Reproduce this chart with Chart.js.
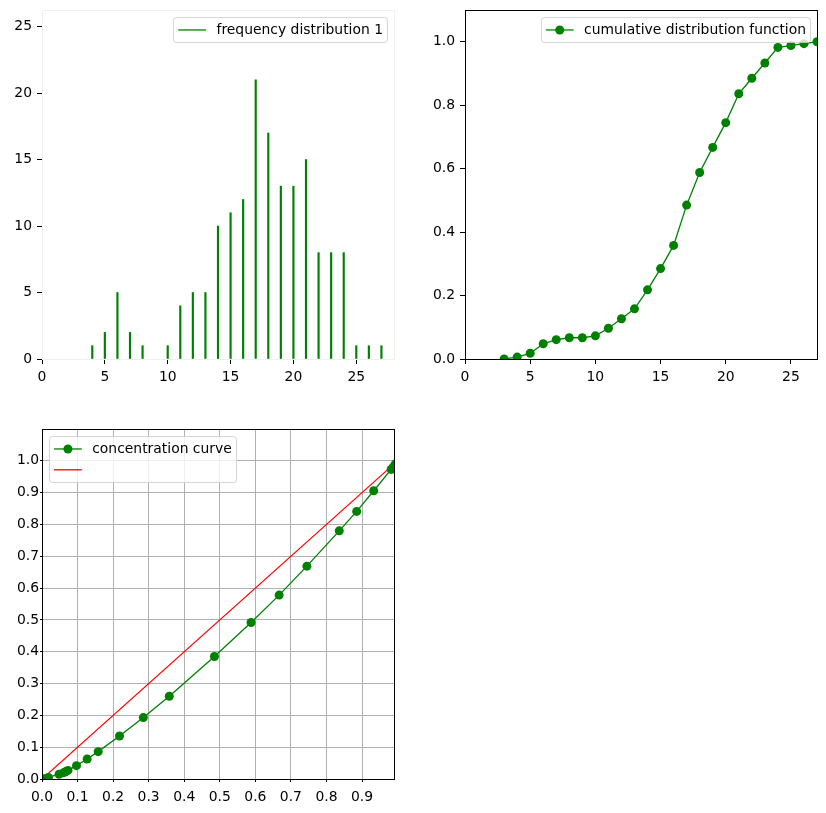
<!DOCTYPE html>
<html>
<head>
<meta charset="utf-8">
<script src="https://cdn.jsdelivr.net/npm/chart.js@4/dist/chart.umd.min.js"></script>
<style>
  html, body { margin: 0; padding: 0; background: #fff; }
  body { width: 826px; height: 813px; position: relative; overflow: hidden; }
  .box { position: absolute; }
  canvas { display: block; }
</style>
</head>
<body>
<div class="box" style="left:0px;top:0px;width:400px;height:390px"><canvas id="c1" width="400" height="390"></canvas></div>
<div class="box" style="left:420px;top:0px;width:406px;height:390px"><canvas id="c2" width="406" height="390"></canvas></div>
<div class="box" style="left:0px;top:420px;width:400px;height:393px"><canvas id="c3" width="400" height="393"></canvas></div>
<script>
// ---------------- DATA ----------------
const freqValues = [4, 5, 6, 7, 8, 10, 11, 12, 13, 14, 15, 16, 17, 18, 19, 20, 21, 22, 23, 24, 25, 26, 27];
const freqCounts = [1, 2, 5, 2, 1, 1, 4, 5, 5, 10, 11, 12, 21, 17, 13, 13, 15, 8, 8, 8, 1, 1, 1];

const cdfValues = [3, 4, 5, 6, 7, 8, 9, 10, 11, 12, 13, 14, 15, 16, 17, 18, 19, 20, 21, 22, 23, 24, 25, 26, 27];
const cdfProbs = [0, 0.006, 0.018, 0.048, 0.061, 0.067, 0.067, 0.073, 0.097, 0.127, 0.158, 0.218, 0.285, 0.358, 0.485, 0.588, 0.667, 0.745, 0.836, 0.885, 0.933, 0.982, 0.988, 0.994, 1.0];

const concX = [0, 0.006, 0.018, 0.048, 0.061, 0.067, 0.067, 0.073, 0.097, 0.127, 0.158, 0.218, 0.285, 0.358, 0.485, 0.588, 0.667, 0.745, 0.836, 0.885, 0.933, 0.982, 0.988, 0.994, 1.0];
const concY = [0, 0.001, 0.005, 0.015, 0.020, 0.023, 0.023, 0.027, 0.042, 0.063, 0.086, 0.135, 0.193, 0.260, 0.385, 0.492, 0.578, 0.669, 0.780, 0.841, 0.906, 0.973, 0.981, 0.991, 1.0];

const equalityX = [0, 1];
const equalityY = [0, 1];

const freqXTicks = [0, 5, 10, 15, 20, 25];
const freqYTicks = [0, 5, 10, 15, 20, 25];
const cdfXTicks = [0, 5, 10, 15, 20, 25];
const cdfYTicks = [0.0, 0.2, 0.4, 0.6, 0.8, 1.0];
const concXTicks = [0.0, 0.1, 0.2, 0.3, 0.4, 0.5, 0.6, 0.7, 0.8, 0.9];
const concYTicks = [0.0, 0.1, 0.2, 0.3, 0.4, 0.5, 0.6, 0.7, 0.8, 0.9, 1.0];

const legend1 = ['frequency distribution 1'];
const legend2 = ['cumulative distribution function'];
const legend3 = ['concentration curve', ''];

// ---------------- STYLE ----------------
const GREEN = '#008000';
const RED = '#ff0000';
const FS = 13.9;
const FONT = { family: '"DejaVu Sans", sans-serif', size: FS };
Chart.defaults.font.family = FONT.family;
Chart.defaults.font.size = FS;
Chart.defaults.color = '#000';

const pts = (xs, ys) => xs.map((x, i) => ({ x: x, y: ys[i] }));
const fixTicks = arr => function (scale) { scale.ticks = arr.map(v => ({ value: v })); };

// frame plugin
const framePlugin = {
  id: 'frame',
  afterDatasetsDraw(chart, args, opts) {
    const { ctx, chartArea: a } = chart;
    ctx.save();
    ctx.strokeStyle = opts.color || '#000';
    ctx.lineWidth = 1;
    ctx.strokeRect(Math.round(a.left) + 0.5, Math.round(a.top) + 0.5,
      Math.round(a.right - a.left), Math.round(a.bottom - a.top));
    ctx.restore();
  }
};

// matplotlib-like legend drawn inside axes
const mplLegend = {
  id: 'mplLegend',
  afterDraw(chart, args, opts) {
    const items = opts.items || [];
    if (!items.length) return;
    const { ctx, chartArea: a } = chart;
    ctx.save();
    ctx.font = FS + 'px "DejaVu Sans"';
    const tw = Math.max(...items.map(i => ctx.measureText(i.label).width), 0);
    const pad = 0.4 * FS, handle = 2 * FS, htp = 0.75 * FS, sp = 0.5 * FS, bap = 0.5 * FS;
    const w = pad * 2 + handle + htp + tw - 2;
    const n = items.length;
    const h = pad * 2 + n * FS + (n - 1) * sp;
    const x0 = opts.loc === 'ul' ? a.left + bap : a.right - bap - w;
    const y0 = a.top + bap;
    ctx.beginPath();
    if (ctx.roundRect) ctx.roundRect(Math.round(x0) + 0.5, Math.round(y0) + 0.5, Math.round(w), Math.round(h), 3);
    else ctx.rect(Math.round(x0) + 0.5, Math.round(y0) + 0.5, Math.round(w), Math.round(h));
    ctx.fillStyle = 'rgba(255,255,255,0.8)';
    ctx.fill();
    ctx.strokeStyle = 'rgba(204,204,204,0.8)';
    ctx.lineWidth = 1;
    ctx.stroke();
    items.forEach((it, i) => {
      const cy = y0 + pad + FS / 2 + i * (FS + sp) + 0.5;
      const lx0 = x0 + pad - 0.5, lx1 = x0 + pad + handle - 0.5;
      ctx.strokeStyle = it.color;
      ctx.lineWidth = 1.3;
      ctx.beginPath();
      ctx.moveTo(lx0, cy);
      ctx.lineTo(lx1, cy);
      ctx.stroke();
      if (it.marker) {
        ctx.fillStyle = it.color;
        ctx.beginPath();
        ctx.arc((lx0 + lx1) / 2, cy, 4.5, 0, Math.PI * 2);
        ctx.fill();
      }
      ctx.fillStyle = '#000';
      ctx.textBaseline = 'middle';
      ctx.textAlign = 'left';
      ctx.fillText(it.label, lx1 + htp, cy + 0.5);
    });
    ctx.restore();
  }
};

Chart.register(framePlugin, mplLegend);

function axis(opts) {
  return {
    type: 'linear',
    min: opts.min, max: opts.max,
    offset: false,
    afterBuildTicks: fixTicks(opts.ticks),
    afterFit: function (s) {
      opts.fit(s);
      s.paddingTop = 0; s.paddingBottom = 0; s.paddingLeft = 0; s.paddingRight = 0;
    },
    grid: {
      display: true,
      offset: false,
      drawOnChartArea: !!opts.grid,
      color: '#b0b0b0',
      lineWidth: 1,
      tickColor: '#000',
      drawTicks: true,
      tickLength: opts.tickLength != null ? opts.tickLength : 5,
    },
    border: { display: false },
    ticks: {
      color: '#000',
      font: FONT,
      padding: opts.padding != null ? opts.padding : 5,
      maxRotation: 0,
      autoSkip: false,
      callback: opts.fmt || (v => String(v)),
    }
  };
}

const common = {
  responsive: false,
  animation: false,
  devicePixelRatio: 1,
  events: [],
};

// ---------------- CHART 1 : frequency distribution ----------------
new Chart(document.getElementById('c1'), {
  type: 'bar',
  data: {
    datasets: [{
      label: legend1[0],
      data: pts(freqValues, freqCounts),
      backgroundColor: GREEN,
      borderWidth: 0,
      barThickness: 1.5,
    }]
  },
  options: Object.assign({}, common, {
    layout: { padding: { left: 0, top: 10, right: 6, bottom: 0 } },
    plugins: {
      legend: { display: false }, tooltip: { enabled: false },
      frame: { color: '#f0f0f0' },
      mplLegend: { loc: 'ur', items: [{ label: legend1[0], color: GREEN, marker: false }] }
    },
    scales: {
      x: axis({ min: 0, max: 28, ticks: freqXTicks, fit: s => { s.height = 31; }, padding: 5 }),
      y: axis({ min: 0, max: 26.25, ticks: freqYTicks, fit: s => { s.width = 42; }, padding: 5 }),
    }
  })
});

// ---------------- CHART 2 : CDF ----------------
new Chart(document.getElementById('c2'), {
  type: 'line',
  data: {
    datasets: [{
      label: legend2[0],
      data: pts(cdfValues, cdfProbs),
      borderColor: GREEN,
      backgroundColor: GREEN,
      borderWidth: 1.3,
      pointRadius: 4.5,
      pointBorderWidth: 0,
      pointBackgroundColor: GREEN,
      tension: 0,
      fill: false,
    }]
  },
  options: Object.assign({}, common, {
    layout: { padding: { left: 0, top: 10, right: 9, bottom: 0 } },
    plugins: {
      legend: { display: false }, tooltip: { enabled: false },
      frame: { color: '#000' },
      mplLegend: { loc: 'ur', items: [{ label: legend2[0], color: GREEN, marker: true }] }
    },
    scales: {
      x: axis({ min: 0, max: 27, ticks: cdfXTicks, fit: s => { s.height = 31; }, padding: 5 }),
      y: axis({ min: 0, max: 1.1, ticks: cdfYTicks, fit: s => { s.width = 45; }, padding: 5, fmt: v => v.toFixed(1) }),
    }
  })
});

// ---------------- CHART 3 : concentration curve ----------------
new Chart(document.getElementById('c3'), {
  type: 'line',
  data: {
    datasets: [{
      label: legend3[0],
      data: pts(concX, concY),
      borderColor: GREEN,
      backgroundColor: GREEN,
      borderWidth: 1.3,
      pointRadius: 4.5,
      pointBorderWidth: 0,
      pointBackgroundColor: GREEN,
      tension: 0,
      fill: false,
    }, {
      label: legend3[1],
      data: pts(equalityX, equalityY),
      borderColor: RED,
      borderWidth: 1.3,
      pointRadius: 0,
      tension: 0,
      fill: false,
    }]
  },
  options: Object.assign({}, common, {
    layout: { padding: { left: 0, top: 9, right: 6, bottom: 0 } },
    plugins: {
      legend: { display: false }, tooltip: { enabled: false },
      frame: { color: '#000' },
      mplLegend: { loc: 'ul', items: [
        { label: legend3[0], color: GREEN, marker: true },
        { label: legend3[1], color: RED, marker: false }
      ] }
    },
    scales: {
      x: axis({ min: 0, max: 0.99, ticks: concXTicks, fit: s => { s.height = 34; }, grid: true, tickLength: 3, padding: 7, fmt: v => v.toFixed(1) }),
      y: axis({ min: 0, max: 1.1, ticks: concYTicks, fit: s => { s.width = 42; }, grid: true, tickLength: 2, padding: 1, fmt: v => v.toFixed(1) }),
    }
  })
});
</script>
</body>
</html>
